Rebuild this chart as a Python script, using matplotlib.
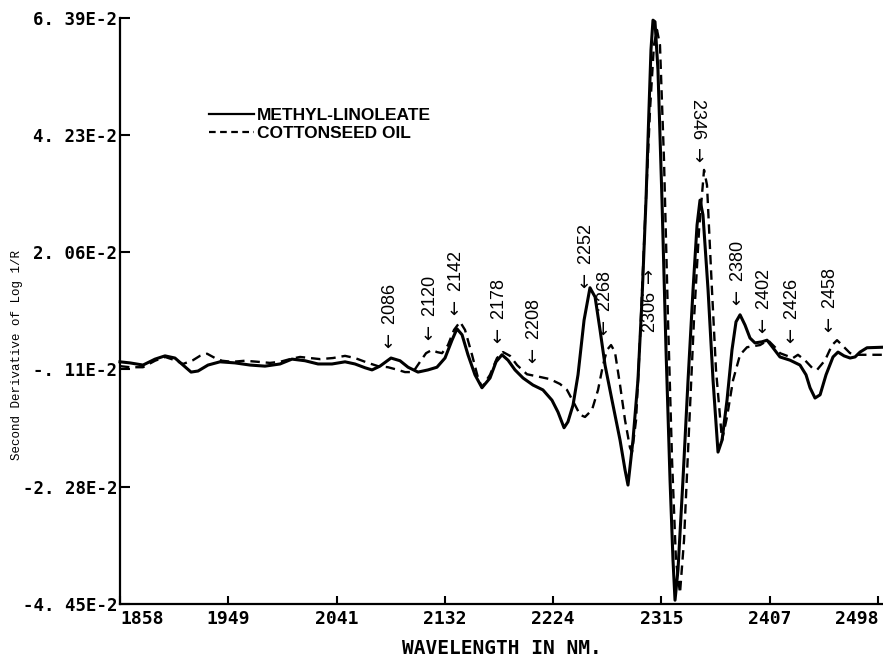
import numpy as np
import matplotlib.pyplot as plt
from matplotlib.lines import Line2D

# second derivative spectra (values in units of 1E-2)
wl_methyl = [1858, 1866.4, 1877.4, 1887.6, 1896.0, 1904.4, 1911.2, 1918.0, 1923.9, 1932.3,
             1942.4, 1955.1, 1967.8, 1980.4, 1993.1, 2003.2, 2014.2, 2025.2, 2037.0, 2048.0,
             2056.4, 2064.9, 2070.8, 2077.5, 2086.8, 2094.4, 2101.2, 2109.6, 2118.0, 2125.6,
             2132.4, 2138.3, 2142.5, 2146.8, 2151.8, 2157.7, 2163.6, 2170.4, 2175.5, 2180.5,
             2185.6, 2191.5, 2198.3, 2206.7, 2215.1, 2222.7, 2227.8, 2232.9, 2236.2, 2240.5,
             2244.7, 2249.8, 2254.8, 2259.1, 2263.3, 2267.5, 2273.4, 2280.2, 2284.4, 2286.9,
             2291.1, 2295.3, 2298.7, 2302.1, 2304.6, 2306.3, 2308.0, 2309.7, 2312.2, 2315.6,
             2319.0, 2322.4, 2324.9, 2326.6, 2329.1, 2333.3, 2337.6, 2341.8, 2345.2, 2347.7,
             2350.2, 2354.5, 2358.7, 2362.9, 2366.3, 2370.5, 2374.7, 2378.1, 2381.5, 2385.7,
             2389.9, 2394.1, 2400.0, 2404.3, 2409.3, 2415.2, 2423.7, 2432.1, 2437.2, 2440.6,
             2444.8, 2449.1, 2454.1, 2460.0, 2464.2, 2469.3, 2474.4, 2478.6, 2482.8, 2488.7,
             2502.2]
d2_methyl = [0.03, 0.01, -0.03, 0.08, 0.14, 0.10, -0.03, -0.16, -0.14, -0.03,
             0.03, 0.01, -0.03, -0.05, -0.01, 0.08, 0.05, -0.01, -0.01, 0.03,
             -0.01, -0.08, -0.12, -0.05, 0.10, 0.05, -0.07, -0.16, -0.12, -0.07,
             0.10, 0.43, 0.64, 0.53, 0.16, -0.21, -0.45, -0.27, 0.03, 0.16,
             0.06, -0.12, -0.27, -0.40, -0.49, -0.68, -0.90, -1.19, -1.08, -0.77,
             -0.21, 0.80, 1.40, 1.23, 0.62, -0.03, -0.68, -1.42, -1.97, -2.25,
             -1.42, -0.31, 1.17, 3.02, 4.69, 5.80, 6.35, 6.32, 5.43, 3.02,
             0.25, -2.16, -3.64, -4.38, -3.82, -2.16, -0.31, 1.36, 2.56, 3.02,
             2.75, 1.36, -0.31, -1.64, -1.42, -0.68, 0.25, 0.77, 0.90, 0.71,
             0.47, 0.38, 0.40, 0.43, 0.29, 0.12, 0.06, -0.03, -0.21, -0.45,
             -0.64, -0.58, -0.21, 0.12, 0.21, 0.14, 0.10, 0.12, 0.21, 0.29,
             0.30]

wl_cotton = [1858, 1866.4, 1877.4, 1887.6, 1896.0, 1904.4, 1911.2, 1919.6, 1925.5, 1931.5,
             1938.2, 1944.1, 1952.6, 1963.5, 1974.5, 1984.6, 1993.1, 2001.5, 2010.0, 2018.4,
             2026.9, 2037.8, 2048.0, 2056.4, 2067.4, 2075.8, 2084.3, 2092.7, 2098.6, 2105.4,
             2111.3, 2116.4, 2121.4, 2125.6, 2129.9, 2134.9, 2140.0, 2145.1, 2149.3, 2155.2,
             2160.3, 2163.6, 2170.4, 2176.3, 2181.4, 2187.3, 2193.2, 2201.6, 2212.6, 2221.0,
             2229.5, 2235.4, 2242.2, 2246.4, 2250.6, 2256.5, 2261.6, 2265.8, 2269.2, 2272.6,
             2275.9, 2280.2, 2284.4, 2288.6, 2290.3, 2293.7, 2297.0, 2301.3, 2305.5, 2308.8,
             2311.4, 2313.9, 2317.3, 2320.7, 2324.1, 2327.4, 2330.8, 2334.2, 2338.4, 2342.6,
             2346.9, 2351.1, 2353.6, 2357.8, 2361.2, 2366.3, 2370.5, 2375.6, 2381.5, 2387.4,
             2398.4, 2405.1, 2411.0, 2415.2, 2426.2, 2430.4, 2436.3, 2442.3, 2446.5, 2453.3,
             2459.2, 2463.4, 2467.6, 2474.4, 2481.1, 2488.7, 2502.2]
d2_cotton = [-0.05, -0.07, -0.07, 0.05, 0.12, 0.06, -0.01, 0.06, 0.14, 0.18,
             0.10, 0.05, 0.03, 0.05, 0.03, 0.01, 0.03, 0.08, 0.12, 0.10,
             0.08, 0.10, 0.14, 0.10, 0.01, -0.05, -0.07, -0.12, -0.16, -0.16,
             0.03, 0.19, 0.25, 0.21, 0.19, 0.34, 0.62, 0.77, 0.62, 0.16,
             -0.27, -0.44, -0.21, 0.10, 0.21, 0.14, -0.03, -0.20, -0.25, -0.29,
             -0.38, -0.49, -0.77, -0.95, -0.99, -0.86, -0.49, -0.03, 0.25, 0.34,
             0.21, -0.40, -1.05, -1.56, -1.64, -1.05, 0.43, 2.65, 4.69, 5.89,
             6.17, 5.89, 3.76, 0.80, -1.79, -3.64, -4.25, -3.27, -1.23, 0.80,
             2.47, 3.58, 3.30, 1.36, -0.12, -1.42, -0.99, -0.31, 0.16, 0.30,
             0.34, 0.43, 0.30, 0.19, 0.10, 0.16, 0.06, -0.08, -0.12, 0.06,
             0.34, 0.43, 0.34, 0.19, 0.16, 0.16, 0.16]

x_ticks = np.linspace(1858, 2498, 8)
x_tick_labels = ['1858', '1949', '2041', '2132', '2224', '2315', '2407', '2498']
y_ticks = [6.39, 4.23, 2.06, -0.11, -2.28, -4.45]
y_tick_labels = ['6. 39E-2', '4. 23E-2', '2. 06E-2', '-. 11E-2', '-2. 28E-2', '-4. 45E-2']

# band labels: wavelength, label height, arrow style
band_wl = [2086, 2120, 2142, 2178, 2208, 2252, 2268, 2306, 2346, 2380, 2402, 2426, 2458]
band_y = [0.84, 0.99, 1.45, 0.93, 0.56, 1.95, 1.08, 1.17, 4.32, 1.64, 1.12, 0.93, 1.14]
band_style = ['left'] * 7 + ['up', 'down'] + ['left'] * 4

mono = 'DejaVu Sans Mono'
sans = ['Liberation Sans', 'DejaVu Sans']
plt.rcParams['mathtext.fontset'] = 'dejavusans'

fig = plt.figure(figsize=(8.83, 6.64), dpi=100)
ax = fig.add_axes([120 / 883, 60 / 664, 763 / 883, 586 / 664])

ax.plot(wl_methyl, d2_methyl, color='black', lw=2.2, solid_joinstyle='round',
        clip_on=False)
ax.plot(wl_cotton, d2_cotton, color='black', lw=1.7, dashes=(4, 2.5), clip_on=False)

ax.set_xlim(1858, 2502.2)
ax.set_ylim(-4.45, 6.39)

ax.set_xticks(x_ticks)
ax.set_xticklabels(x_tick_labels, fontfamily=mono, fontweight='bold', fontsize=13)
ax.set_yticks(y_ticks)
ax.set_yticklabels(y_tick_labels, fontfamily=mono, fontweight='bold', fontsize=12.5)
xl = ax.get_xticklabels()
xl[0].set_ha('left')
xl[-1].set_ha('right')

ax.tick_params(axis='both', direction='in', width=1.5, colors='black')
ax.tick_params(axis='y', length=7, pad=2)
ax.tick_params(axis='x', length=6, pad=4)

for s in ['top', 'right']:
    ax.spines[s].set_visible(False)
for s in ['left', 'bottom']:
    ax.spines[s].set_linewidth(1.6)

ax.set_xlabel('WAVELENGTH IN NM.', fontfamily=mono, fontweight='bold', fontsize=14,
              labelpad=8)
fig.text(17 / 883, 1 - 355 / 664, 'Second Derivative of Log 1/R', rotation=90,
         fontfamily='Liberation Mono', fontsize=9, ha='center', va='center')

for w, yv, st in zip(band_wl, band_y, band_style):
    if st == 'left':
        txt, rot = r'$\leftarrow$ %d' % w, 90
    elif st == 'up':
        txt, rot = r'%d $\rightarrow$' % w, 90
    else:
        txt, rot = r'%d $\rightarrow$' % w, -90
    ax.text(w, yv, txt, rotation=rot, ha='center', va='center', fontsize=13,
            family=sans)

handles = [Line2D([], [], color='black', lw=1.6),
           Line2D([], [], color='black', lw=1.6, dashes=(3, 2))]
ax.legend(handles, ['METHYL-LINOLEATE', 'COTTONSEED OIL'], loc='upper left',
          bbox_to_anchor=(0.105, 0.862), frameon=False, borderpad=0,
          handlelength=2.6, handletextpad=0.15, labelspacing=0.2,
          prop={'family': sans, 'weight': 'bold', 'size': 12.5})

fig.savefig('out.png', dpi=100)
